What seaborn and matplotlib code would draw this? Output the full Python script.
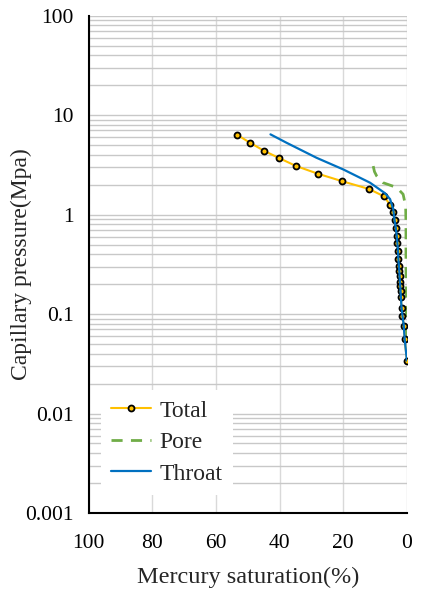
import matplotlib
matplotlib.use("Agg")
import matplotlib.pyplot as plt
import seaborn as sns
import numpy as np
from matplotlib.ticker import LogLocator, FixedLocator, FixedFormatter, NullFormatter

# ---- data ----
total_sat = [53.3, 49.2, 45.0, 40.3, 34.9, 28.1, 20.3, 12.0, 7.1, 5.4, 4.3, 3.9, 3.5, 3.2,
             3.0, 2.8, 2.7, 2.5, 2.4, 2.3, 2.2, 2.1, 2.0, 1.9, 1.7, 1.4, 1.0, 0.7, 0.0]
total_p = [6.31, 5.24, 4.39, 3.71, 3.08, 2.58, 2.16, 1.81, 1.52, 1.26, 1.06, 0.883, 0.733, 0.609,
           0.515, 0.427, 0.361, 0.303, 0.270, 0.240, 0.212, 0.190, 0.170, 0.149, 0.116, 0.0966,
           0.0767, 0.0557, 0.034]

throat_sat = [42.9, 37.8, 28.4, 20.0, 11.6, 6.9, 5.3, 4.3, 3.9, 3.5, 3.2, 3.0, 2.8, 2.7, 2.5,
              2.3, 2.1, 1.9, 1.7, 1.4, 1.0, 0.7, 0.0]
throat_p = [6.4, 5.26, 3.72, 2.84, 2.09, 1.64, 1.43, 1.13, 0.883, 0.733, 0.609, 0.515, 0.427,
            0.361, 0.303, 0.240, 0.190, 0.149, 0.116, 0.0966, 0.0767, 0.0557, 0.034]

pore_sat = [10.6, 10.2, 9.5, 7.5, 3.2, 1.2, 0.4, 0.3, 0.3, 0.2, 0.1]
pore_p = [3.07, 2.7, 2.44, 2.09, 1.87, 1.6, 1.22, 0.8, 0.3, 0.1, 0.05]

x_ticks = [100, 80, 60, 40, 20, 0]
y_ticks = [0.001, 0.01, 0.1, 1, 10, 100]
y_tick_labels = ["0.001", "0.01", "0.1", "1", "10", "100"]

sns.set_style("white")
plt.rcParams['font.family'] = ['Liberation Serif', 'DejaVu Serif']

fig = plt.figure(figsize=(4.23, 6.0), dpi=100)
ax = fig.add_axes([0.210, 0.145, 0.752, 0.829])

sns.lineplot(x=total_sat, y=total_p, sort=False, estimator=None, ax=ax, color="#FFC000",
             lw=1.5, marker="o", markersize=4.3, markerfacecolor="#FFC000",
             markeredgecolor="black", markeredgewidth=1.3, label="Total", zorder=3)
sns.lineplot(x=pore_sat, y=pore_p, sort=False, estimator=None, ax=ax, color="#70AD47",
             lw=2.0, dashes=(4, 3), label="Pore", zorder=2)
sns.lineplot(x=throat_sat, y=throat_p, sort=False, estimator=None, ax=ax, color="#0070C0",
             lw=1.6, label="Throat", zorder=4)

ax.set_yscale("log")
ax.set_ylim(0.001, 100)
ax.set_xlim(100, 0)

ax.xaxis.set_major_locator(FixedLocator(x_ticks))
ax.yaxis.set_major_locator(FixedLocator(y_ticks))
ax.yaxis.set_major_formatter(FixedFormatter(y_tick_labels))
ax.yaxis.set_minor_locator(LogLocator(base=10, subs=np.arange(2, 10)))
ax.yaxis.set_minor_formatter(NullFormatter())

ax.grid(axis="x", which="major", color="#D9D9D9", lw=1.0)
ax.grid(axis="y", which="both", color="#C8C8C8", lw=1.0)
ax.set_axisbelow(True)

for s in ["top", "right"]:
    ax.spines[s].set_visible(False)
for s in ["left", "bottom"]:
    ax.spines[s].set_color("black")
    ax.spines[s].set_linewidth(1.5)

ax.tick_params(axis="both", which="both", length=0, labelsize=15.5, colors="black")
ax.tick_params(axis="x", pad=15)
ax.tick_params(axis="y", pad=11)

ax.set_xlabel("Mercury saturation(%)", fontsize=17.5, labelpad=10)
ax.set_ylabel("Capillary pressure(Mpa)", fontsize=17)
ax.yaxis.set_label_coords(-0.178, 0.5)

leg = ax.legend(loc="lower left", bbox_to_anchor=(0.0, 0.012), fontsize=17, frameon=True,
                facecolor="white", edgecolor="none", framealpha=1.0, fancybox=False,
                handlelength=1.7, handletextpad=0.35, labelspacing=0.42, borderpad=0.45)

fig.savefig("out.png", dpi=100)
